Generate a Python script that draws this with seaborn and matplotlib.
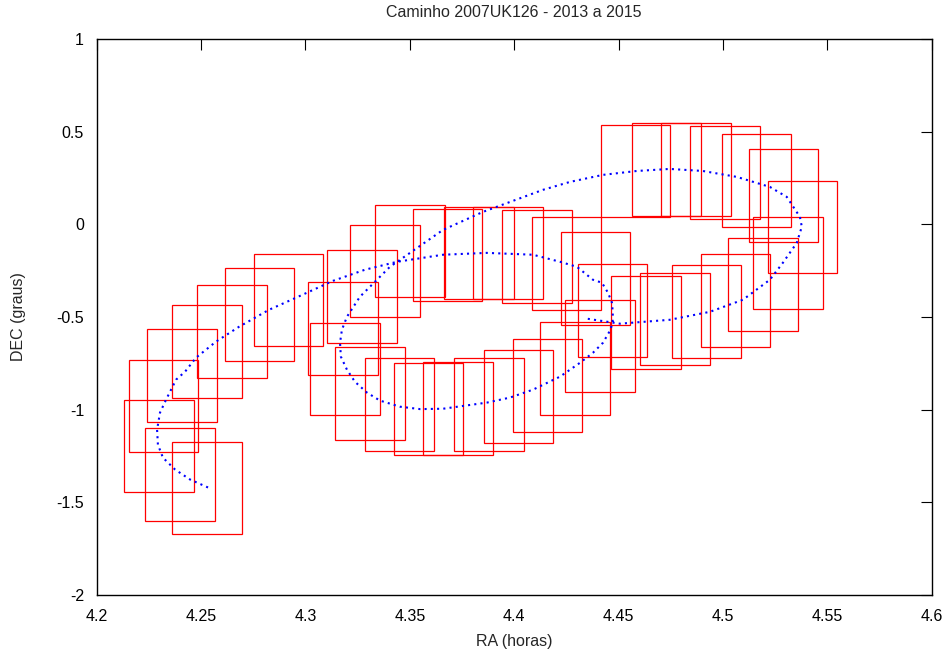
import matplotlib
matplotlib.use("Agg")
import matplotlib.pyplot as plt
from matplotlib.patches import Rectangle
import seaborn as sns
import pandas as pd

# Field centres (RA in hours, DEC in degrees)
box_ra = [4.230, 4.232, 4.240, 4.253, 4.241, 4.253, 4.265, 4.278, 4.292,
          4.327, 4.318, 4.319, 4.331, 4.338, 4.350, 4.368, 4.383, 4.397,
          4.411, 4.425, 4.439, 4.447, 4.463, 4.441, 4.429, 4.416, 4.402,
          4.388, 4.373, 4.359, 4.345, 4.458, 4.473, 4.487, 4.501, 4.516,
          4.529, 4.538, 4.531, 4.519, 4.506, 4.492, 4.477]
box_dec = [-1.196, -0.980, -1.350, -1.422, -0.815, -0.685, -0.577, -0.486, -0.409,
           -0.389, -0.563, -0.781, -0.912, -0.252, -0.144, -0.166, -0.154, -0.154,
           -0.173, -0.213, -0.294, -0.466, -0.531, -0.657, -0.779, -0.868, -0.930,
           -0.971, -0.992, -0.996, -0.971, 0.287, 0.296, 0.296, 0.278, 0.237,
           0.156, -0.015, -0.208, -0.326, -0.410, -0.470, -0.511]
box_w = 1.0 / 30.0   # hours
box_h = 0.5          # degrees

# Ephemeris path 2013-2015
path_ra = [4.2534, 4.2448, 4.2376, 4.2318, 4.2294, 4.2290, 4.2304, 4.2333, 4.2381,
           4.2424, 4.2476, 4.2572, 4.2682, 4.2826, 4.2955, 4.3132, 4.3285, 4.3439,
           4.3659, 4.3869, 4.4090, 4.4219, 4.4300, 4.4377, 4.4420, 4.4449, 4.4468,
           4.4472, 4.4471, 4.4461, 4.4425, 4.4377, 4.4315, 4.4219, 4.4090, 4.3979,
           4.3869, 4.3659, 4.3549, 4.3453, 4.3357, 4.3295, 4.3237, 4.3199, 4.3170,
           4.3166, 4.3175, 4.3199, 4.3261, 4.3333, 4.3405, 4.3501, 4.3659, 4.3850,
           4.4137, 4.4267, 4.4425, 4.4587, 4.4745, 4.4903, 4.5066, 4.5224, 4.5305,
           4.5368, 4.5377, 4.5353, 4.5286, 4.5224, 4.5095, 4.4937, 4.4745, 4.4506,
           4.4348]
path_dec = [-1.420, -1.377, -1.323, -1.259, -1.189, -1.108, -1.016, -0.946, -0.838,
            -0.795, -0.720, -0.633, -0.553, -0.461, -0.396, -0.305, -0.245, -0.202,
            -0.164, -0.154, -0.164, -0.202, -0.229, -0.299, -0.315, -0.369, -0.423,
            -0.477, -0.526, -0.569, -0.639, -0.693, -0.747, -0.822, -0.892, -0.935,
            -0.962, -0.995, -0.997, -0.984, -0.951, -0.908, -0.849, -0.784, -0.714,
            -0.639, -0.569, -0.499, -0.391, -0.310, -0.229, -0.154, -0.030, 0.067,
            0.186, 0.229, 0.267, 0.288, 0.299, 0.288, 0.256, 0.202, 0.148,
            0.040, -0.013, -0.100, -0.208, -0.299, -0.407, -0.472, -0.515, -0.536,
            -0.509]

x_ticks = [4.2, 4.25, 4.3, 4.35, 4.4, 4.45, 4.5, 4.55, 4.6]
x_labels = ["4.2", "4.25", "4.3", "4.35", "4.4", "4.45", "4.5", "4.55", "4.6"]
y_ticks = [-2, -1.5, -1, -0.5, 0, 0.5, 1]
y_labels = ["-2", "-1.5", "-1", "-0.5", "0", "0.5", "1"]

sns.set_style("white")
plt.rcParams["font.family"] = ["Liberation Sans", "DejaVu Sans"]

fig = plt.figure(figsize=(9.49, 6.57), dpi=100)
ax = fig.add_axes([0.1017, 0.0944, 0.8803, 0.8462])

for ra, dec in zip(box_ra, box_dec):
    ax.add_patch(Rectangle((ra - box_w / 2, dec - box_h / 2), box_w, box_h,
                           fill=False, edgecolor="#ff0000", linewidth=0.9,
                           zorder=2))

path = pd.DataFrame({"ra": path_ra, "dec": path_dec})
sns.lineplot(data=path, x="ra", y="dec", sort=False, estimator=None,
             color="#0000ff", linewidth=1.5, linestyle=(0, (1, 2.0)),
             ax=ax, zorder=3)

ax.set_xlim(4.2, 4.6)
ax.set_ylim(-2, 1)
ax.set_xticks(x_ticks)
ax.set_xticklabels(x_labels)
ax.set_yticks(y_ticks)
ax.set_yticklabels(y_labels)
ax.tick_params(direction="in", length=8, width=0.8, top=True, right=True,
               labelsize=11.5, colors="black")
ax.tick_params(axis="x", pad=10)
ax.tick_params(axis="y", pad=9)
for s in ax.spines.values():
    s.set_visible(True)
    s.set_color("black")
    s.set_linewidth(1.0)

ax.set_xlabel("RA (horas)", fontsize=11.5, labelpad=7)
ax.set_ylabel("DEC (graus)", fontsize=11.5, labelpad=22)
ax.set_title("Caminho 2007UK126 - 2013 a 2015", fontsize=11.5, pad=16)

fig.savefig("out.png", dpi=100)
